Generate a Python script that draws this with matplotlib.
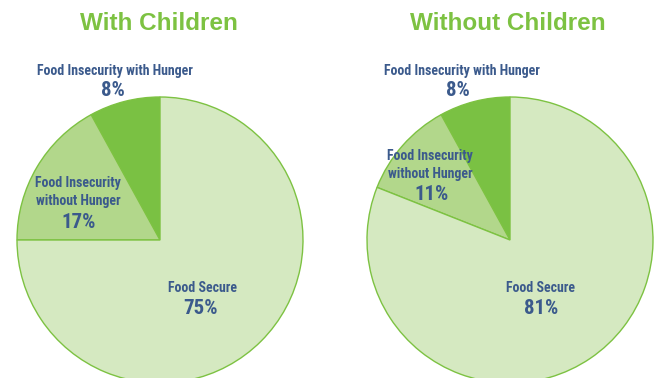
import matplotlib
matplotlib.use("Agg")
import matplotlib.pyplot as plt
from matplotlib import font_manager

# ─── Data ────────────────────────────────────────────────────────────────────
groups = ["With Children", "Without Children"]
categories = ["Food Insecurity with Hunger", "Food Insecurity\nwithout Hunger", "Food Secure"]
with_children = [8, 17, 75]
without_children = [8, 11, 81]

COLORS = ["#7ac143", "#b2d78b", "#d5e9c1"]
EDGE = "#7dc242"
TEXT = "#3b5a8c"
TITLE = "#7dc242"


def pick_font(names):
    installed = {f.name for f in font_manager.fontManager.ttflist}
    for n in names:
        if n in installed:
            return n
    return "DejaVu Sans"


NARROW = pick_font(["Liberation Sans Narrow", "DejaVu Sans Condensed", "Roboto Condensed", "DejaVu Sans"])
HEAVY = pick_font(["Liberation Sans", "DejaVu Sans"])

W, H = 657, 378
fig = plt.figure(figsize=(W / 100, H / 100), dpi=100)
ax = fig.add_axes([0, 0, 1, 1])

# pixel layout (y measured from top of image)
centers = [(160, 240), (510, 240)]
radius = 143

for (cx, cy), vals in zip(centers, [with_children, without_children]):
    ax.pie(vals, colors=COLORS, startangle=90, counterclock=True,
           center=(cx, H - cy), radius=radius,
           wedgeprops=dict(edgecolor=EDGE, linewidth=1.0))

ax.set_xlim(0, W)
ax.set_ylim(0, H)
ax.set_aspect("equal")
ax.axis("off")


def put(x, y, s, size, **kw):
    ax.text(x, H - y, s, ha="center", va="center", color=TEXT, fontsize=size,
            family=NARROW, fontweight="bold", **kw)


LBL, PCT = 10, 15

# titles
for x, title in zip([159, 508], groups):
    ax.text(x, H - 24, title, ha="center", va="center", color=TITLE,
            fontsize=17.5, family=HEAVY, fontweight="bold")

# left pie labels
put(115, 71, categories[0], LBL)
put(113, 91, f"{with_children[0]}%", PCT)
put(78, 192, categories[1], LBL, linespacing=1.35)
put(79, 222, f"{with_children[1]}%", PCT)
put(202, 288, categories[2], LBL)
put(201, 309, f"{with_children[2]}%", PCT)

# right pie labels
put(462, 71, categories[0], LBL)
put(458, 91, f"{without_children[0]}%", PCT)
put(430, 165, categories[1], LBL, linespacing=1.35)
put(432, 195, f"{without_children[1]}%", PCT)
put(541, 288, categories[2], LBL)
put(541, 309, f"{without_children[2]}%", PCT)

fig.savefig("out.png", dpi=100, facecolor="white")
plt.close(fig)
